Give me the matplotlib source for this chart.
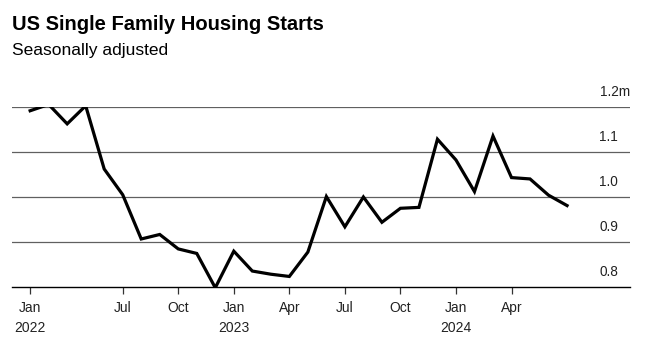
import numpy as np
import matplotlib.pyplot as plt
from matplotlib.transforms import blended_transform_factory

plt.rcParams['font.family'] = ['Liberation Sans', 'DejaVu Sans']

# monthly single family starts, millions
starts = [1.191, 1.205, 1.162, 1.202, 1.062, 1.005, 0.907, 0.917, 0.885, 0.875,
          0.799, 0.880, 0.836, 0.829, 0.824, 0.878, 1.001, 0.934, 1.000, 0.944,
          0.975, 0.977, 1.128, 1.082, 1.012, 1.135, 1.043, 1.040, 1.004, 0.981]
tick_pos = [0, 5, 8, 11, 14, 17, 20, 23, 26]
tick_labels = ['Jan\n2022', 'Jul', 'Oct', 'Jan\n2023', 'Apr', 'Jul', 'Oct',
               'Jan\n2024', 'Apr']
y_levels = [0.8, 0.9, 1.0, 1.1, 1.2]
y_labels = ['0.8', '0.9', '1.0', '1.1', '1.2m']

fig = plt.figure(figsize=(6.57, 3.37), dpi=100)
ax = fig.add_axes([12 / 657, 1 - 287.3 / 337, 618 / 657, (287.3 - 106.7) / 337])

x = np.arange(len(starts))
ax.plot(x, starts, color='black', lw=2.3, solid_joinstyle='miter', zorder=3)

ax.set_xlim(-0.98, 32.4)
ax.set_ylim(0.8, 1.2)

for v in y_levels[1:]:
    ax.axhline(v, color='#606060', lw=0.9, zorder=1)

tr = blended_transform_factory(ax.transAxes, ax.transData)
for v, lab in zip(y_levels, y_labels):
    xr = 1.0 if lab.endswith('m') else (618 - 12) / 618
    ax.text(xr, v + 0.018, lab, transform=tr, ha='right', va='bottom',
            fontsize=9.8, color='#222222')

for s in ['top', 'right', 'left']:
    ax.spines[s].set_visible(False)
ax.spines['bottom'].set_color('black')
ax.spines['bottom'].set_linewidth(1.0)
ax.set_yticks([])
ax.set_xticks(tick_pos)
ax.set_xticklabels(tick_labels, fontsize=10, color='#222222', linespacing=1.55)
ax.tick_params(axis='x', length=5, width=0.9, color='#333333', pad=5)

fig.text(12 / 657, 1 - 24 / 337, 'US Single Family Housing Starts',
         fontsize=14.5, fontweight='bold', va='center', ha='left')
fig.text(12 / 657, 1 - 51 / 337, 'Seasonally adjusted',
         fontsize=12.5, va='center', ha='left')

fig.savefig('out.png', dpi=100)
